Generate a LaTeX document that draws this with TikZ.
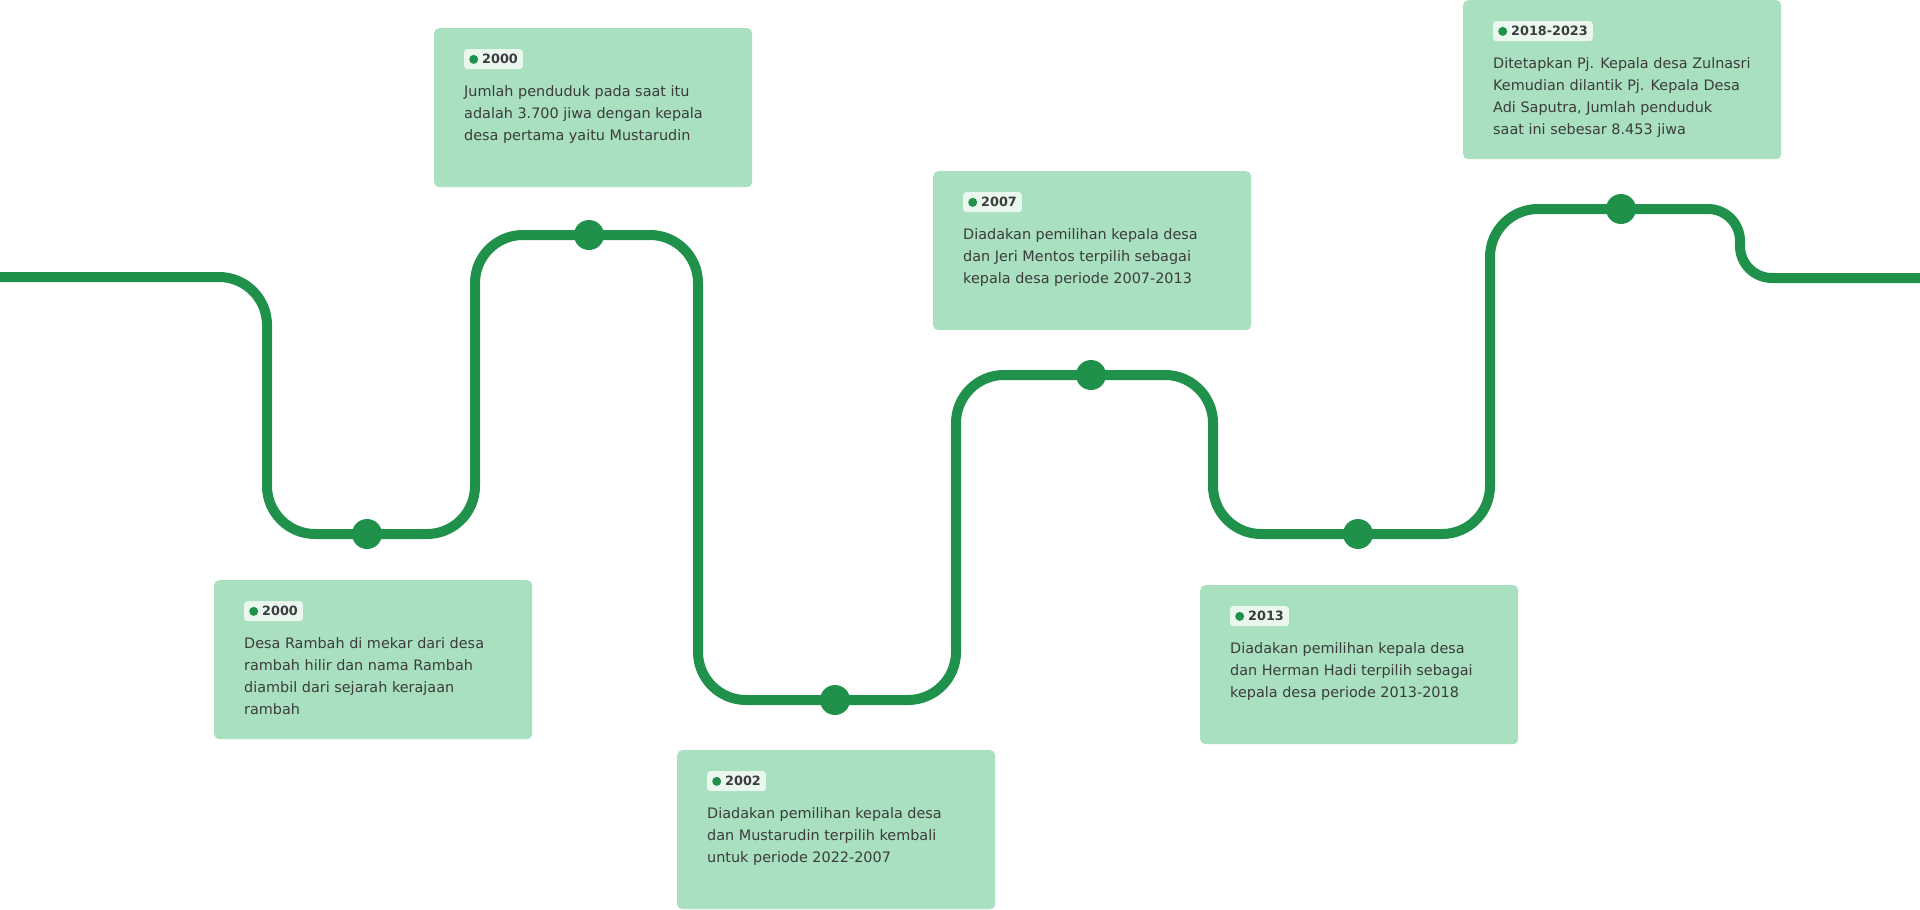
\documentclass[tikz,border=0pt]{standalone}
\usepackage{fontspec}
\setmainfont{DejaVu Sans}
\usetikzlibrary{calc}
\definecolor{tlgreen}{RGB}{31,145,75}
\definecolor{tlcard}{RGB}{168,224,192}
\definecolor{tlbadge}{RGB}{234,247,239}
\definecolor{tltext}{RGB}{60,60,60}
\newcommand{\yeardot}{\tikz[baseline=-4.5pt]\fill[tlgreen] (0,0) circle (4.5pt);\hspace{4pt}}

\begin{document}
\begin{tikzpicture}[x=1pt,y=-1pt,
  track/.style={line width=10pt, tlgreen, rounded corners=48pt},
  dot/.style={circle, fill=tlgreen, inner sep=0pt, minimum size=30pt},
  card/.style={fill=tlcard, rounded corners=5pt, anchor=north west, minimum width=318pt, minimum height=159pt, inner sep=0pt},
  badge/.style={fill=tlbadge, rounded corners=3pt, anchor=north west, minimum height=20pt, inner xsep=5pt, inner ysep=0pt, text=tltext, font=\fontsize{12.8}{15}\selectfont\bfseries},
  body/.style={anchor=north west, inner sep=0pt, text=tltext, align=left, font=\fontsize{14.4}{22}\selectfont}]
\useasboundingbox (0,0) rectangle (1920,910);

% Timeline track
\draw[track] (0,277) -- (267,277) -- (267,534) -- (475,534) -- (475,235) -- (698,235) -- (698,700) -- (956,700) -- (956,375) -- (1213,375) -- (1213,534) -- (1490,534) -- (1490,209) -- (1621,209);
\draw[track, rounded corners=32pt] (1621,209) -- (1740,209) -- (1740,278) -- (1920,278);

% Milestones
\node[dot] (t0) at (367,534) {};
\node[dot] (t1) at (589,235) {};
\node[dot] (t2) at (835,700) {};
\node[dot] (t3) at (1091,375) {};
\node[dot] (t4) at (1358,534) {};
\node[dot] (t5) at (1621,209) {};

% Cards
\node[card] (c0) at (214,580) {};
\node[badge] (y0) at ($(c0.north west)+(30,21)$) {\yeardot 2000};
\node[body] (x0) at ($(c0.north west)+(30,57)$) {Desa Rambah di mekar dari desa\\rambah hilir dan nama Rambah\\diambil dari sejarah kerajaan\\rambah};

\node[card] (c1) at (434,28) {};
\node[badge] (y1) at ($(c1.north west)+(30,21)$) {\yeardot 2000};
\node[body] (x1) at ($(c1.north west)+(30,57)$) {Jumlah penduduk pada saat itu\\adalah 3.700 jiwa dengan kepala\\desa pertama yaitu Mustarudin};

\node[card] (c2) at (677,750) {};
\node[badge] (y2) at ($(c2.north west)+(30,21)$) {\yeardot 2002};
\node[body] (x2) at ($(c2.north west)+(30,57)$) {Diadakan pemilihan kepala desa\\dan Mustarudin terpilih kembali\\untuk periode 2022-2007};

\node[card] (c3) at (933,171) {};
\node[badge] (y3) at ($(c3.north west)+(30,21)$) {\yeardot 2007};
\node[body] (x3) at ($(c3.north west)+(30,57)$) {Diadakan pemilihan kepala desa\\dan Jeri Mentos terpilih sebagai\\kepala desa periode 2007-2013};

\node[card] (c4) at (1200,585) {};
\node[badge] (y4) at ($(c4.north west)+(30,21)$) {\yeardot 2013};
\node[body] (x4) at ($(c4.north west)+(30,57)$) {Diadakan pemilihan kepala desa\\dan Herman Hadi terpilih sebagai\\kepala desa periode 2013-2018};

\node[card] (c5) at (1463,0) {};
\node[badge] (y5) at ($(c5.north west)+(30,21)$) {\yeardot 2018-2023};
\node[body] (x5) at ($(c5.north west)+(30,57)$) {Ditetapkan Pj. Kepala desa Zulnasri\\Kemudian dilantik Pj. Kepala Desa\\Adi Saputra, Jumlah penduduk\\saat ini sebesar 8.453 jiwa};
\end{tikzpicture}
\end{document}
